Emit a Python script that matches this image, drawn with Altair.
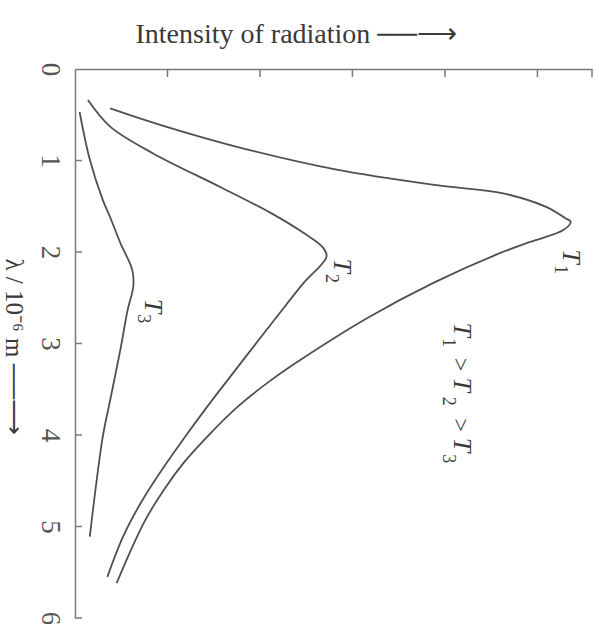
import altair as alt
import pandas as pd

# Spectral curves: wavelength (10^-6 m) and relative intensity, one list pair per temperature
t1_lam = [0.43, 0.61, 0.85, 1.10, 1.27, 1.36, 1.51, 1.63, 1.67, 1.76, 1.89, 2.01, 2.34, 2.71, 3.15, 3.40, 3.69, 4.05, 4.31, 4.60, 4.93, 5.29, 5.62]
t1_int = [0.38, 0.92, 1.75, 2.83, 3.91, 4.63, 5.10, 5.30, 5.36, 5.28, 4.92, 4.60, 3.87, 3.18, 2.48, 2.12, 1.76, 1.40, 1.17, 0.96, 0.76, 0.59, 0.45]

t2_lam = [0.34, 0.63, 0.92, 1.29, 1.57, 1.79, 1.95, 2.05, 2.34, 2.71, 3.10, 3.40, 3.69, 4.02, 4.35, 4.71, 5.11, 5.55]
t2_int = [0.14, 0.38, 0.84, 1.57, 2.11, 2.47, 2.68, 2.72, 2.47, 2.18, 1.88, 1.65, 1.43, 1.19, 0.96, 0.73, 0.52, 0.35]

t3_lam = [0.47, 0.99, 1.43, 1.62, 1.90, 2.20, 2.38, 2.63, 3.07, 3.62, 4.02, 5.11]
t3_int = [0.05, 0.16, 0.30, 0.38, 0.49, 0.62, 0.63, 0.57, 0.49, 0.38, 0.30, 0.16]

# Axis tick positions
int_ticks = [1, 2, 3, 4, 5, 5.59]
lam_ticks = [1, 2, 3, 4, 5, 6]

# Curve names: italic "T" glyphs and their subscript digits (data units)
t_int = [5.36, 2.89, 0.84, 4.18, 4.18, 4.18]
t_lam = [2.05, 2.15, 2.59, 2.85, 3.45, 4.11]
sub_text = ["1", "2", "3", "1", "2", "3"]
sub_int = [5.24, 2.77, 0.73, 4.03, 4.03, 4.03]
sub_lam = [2.19, 2.29, 2.73, 2.99, 3.63, 4.26]
# "greater than" signs of the ordering T1 > T2 > T3
gt_int = [4.16, 4.16]
gt_lam = [3.23, 3.89]

rows = []
for name, lam, inten in (("T1", t1_lam, t1_int), ("T2", t2_lam, t2_int), ("T3", t3_lam, t3_int)):
    for i, (l, v) in enumerate(zip(lam, inten)):
        rows.append({"curve": name, "idx": i, "lam": l, "intensity": v})
curves = pd.DataFrame(rows)

SERIF = "Liberation Serif"
AXIS_GREY = "#7a7a7a"
INK = "#505050"
TEXT = "#3a3a3a"

x_scale = alt.Scale(domain=[0, 5.59], nice=False, zero=False)
y_scale = alt.Scale(domain=[0, 6], reverse=True, nice=False)

x_enc = alt.X(
    "intensity:Q",
    scale=x_scale,
    axis=alt.Axis(
        orient="top", labels=False, ticks=False, grid=False,
        domainColor=AXIS_GREY, domainWidth=1.5,
        title="Intensity of radiation \u2500\u2500\u27f6",
        titleFont=SERIF, titleFontSize=28, titleFontWeight="normal",
        titleColor=TEXT, titleX=60, titleY=-27,
        titleAlign="left", titleBaseline="alphabetic",
    ),
)
y_enc = alt.Y(
    "lam:Q",
    scale=y_scale,
    axis=alt.Axis(
        orient="left", ticks=False, grid=False, values=[0, 1, 2, 3, 4, 5, 6], format="d",
        domainColor=AXIS_GREY, domainWidth=1.5,
        labelAngle=90, labelAlign="center", labelBaseline="top",
        labelPadding=13, labelFont=SERIF, labelFontSize=27, labelColor="#555555",
        title="\u03bb / 10\u207b\u2076 m \u2500\u2500\u27f6",
        titleAngle=90, titleFont=SERIF, titleFontSize=25, titleFontWeight="normal",
        titleColor=TEXT, titleX=-70, titleY=189,
        titleAlign="left", titleBaseline="alphabetic",
    ),
)

lines = alt.Chart(curves).mark_line(
    interpolate="catmull-rom", color=INK, strokeWidth=1.8
).encode(x=x_enc, y=y_enc, detail="curve:N", order="idx:Q")

top_ticks = alt.Chart(pd.DataFrame({"intensity": int_ticks})).mark_rule(
    color=AXIS_GREY, strokeWidth=1.5
).encode(x=alt.X("intensity:Q", scale=x_scale), y=alt.value(0), y2=alt.value(8))

left_ticks = alt.Chart(pd.DataFrame({"lam": lam_ticks})).mark_rule(
    color=AXIS_GREY, strokeWidth=1.5
).encode(y=alt.Y("lam:Q", scale=y_scale), x=alt.value(0), x2=alt.value(7))


def rotated_text(frame, size, style):
    return alt.Chart(frame).mark_text(
        angle=90, font=SERIF, fontSize=size, fontStyle=style, color=TEXT,
        align="center", baseline="middle",
    ).encode(
        x=alt.X("intensity:Q", scale=x_scale),
        y=alt.Y("lam:Q", scale=y_scale),
        text="t:N",
    )


t_glyphs = rotated_text(pd.DataFrame({"t": ["T"] * len(t_int), "intensity": t_int, "lam": t_lam}), 26, "italic")
sub_glyphs = rotated_text(pd.DataFrame({"t": sub_text, "intensity": sub_int, "lam": sub_lam}), 18, "normal")
gt_glyphs = rotated_text(pd.DataFrame({"t": [">"] * len(gt_int), "intensity": gt_int, "lam": gt_lam}), 24, "normal")

chart = alt.layer(lines, top_ticks, left_ticks, t_glyphs, sub_glyphs, gt_glyphs).properties(
    width=517,
    height=549,
    autosize=alt.AutoSizeParams(type="none"),
    padding={"left": 75, "top": 69, "right": 7, "bottom": 6},
    background="white",
).configure_view(stroke=None)

chart.save("out.html", embed_options={"renderer": "svg", "actions": False})
